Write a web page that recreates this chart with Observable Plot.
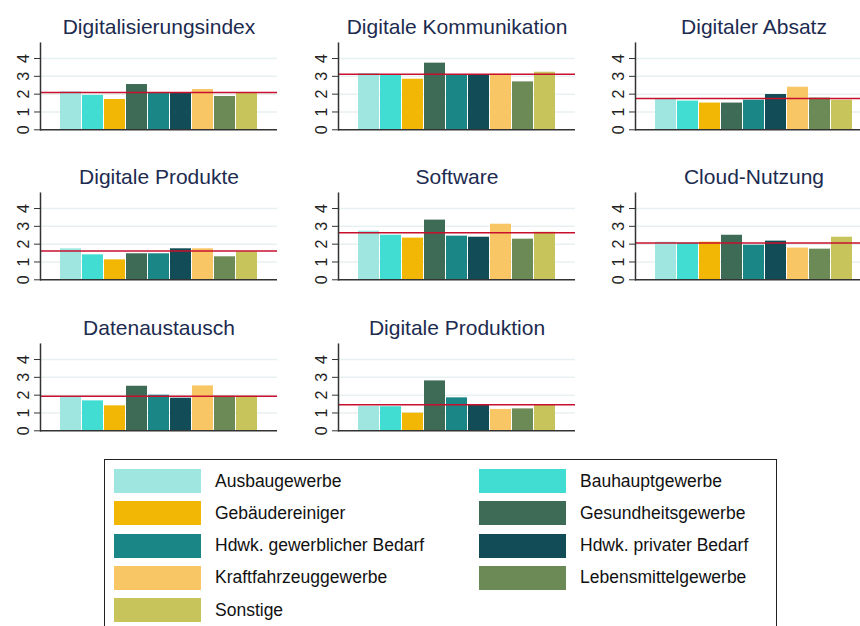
<!DOCTYPE html>
<html><head><meta charset="utf-8">
<script src="https://cdn.jsdelivr.net/npm/d3@7"></script>
<script src="https://cdn.jsdelivr.net/npm/@observablehq/plot@0.6"></script>
<style>
html,body{margin:0;padding:0;background:#fff;overflow:hidden;width:860px;height:626px;}
#root{position:relative;width:860px;height:626px;overflow:hidden;font-family:"Liberation Sans",Arial,sans-serif;}
.panel{position:absolute;}
#legend{position:absolute;left:104px;top:459px;width:673px;height:200px;border:1.5px solid #222;box-sizing:border-box;}
.item{position:absolute;display:flex;align-items:center;height:24px;}
.sw{width:87px;height:24px;flex:none;}
.lab{margin-left:14px;font-size:17.5px;color:#111;white-space:nowrap;}
</style></head><body><div id="root"></div><script>
const categories = ["Ausbaugewerbe","Bauhauptgewerbe","Gebäudereiniger","Gesundheitsgewerbe","Hdwk. gewerblicher Bedarf","Hdwk. privater Bedarf","Kraftfahrzeuggewerbe","Lebensmittelgewerbe","Sonstige"];
const colors = ["#a0e6e0","#41ddd3","#f2b705","#3d6b56","#1b8686","#124c56","#f9c665","#6b8a56","#c6c45b"];
const titles = ["Digitalisierungsindex","Digitale Kommunikation","Digitaler Absatz","Digitale Produkte","Software","Cloud-Nutzung","Datenaustausch","Digitale Produktion"];
const yTicks = [0,1,2,3,4];

const digitalisierungsindex = [2.13,1.93,1.70,2.54,2.09,2.09,2.26,1.87,2.07];
const digitaleKommunikation = [3.16,3.08,2.84,3.74,3.07,3.07,3.12,2.69,3.23];
const digitalerAbsatz       = [1.72,1.61,1.50,1.50,1.66,1.98,2.39,1.78,1.66];
const digitaleProdukte      = [1.74,1.40,1.12,1.46,1.46,1.74,1.74,1.29,1.57];
const software              = [2.73,2.50,2.34,3.35,2.45,2.39,3.12,2.28,2.67];
const cloudNutzung          = [2.11,2.06,2.11,2.50,1.94,2.17,1.78,1.72,2.39];
const datenaustausch        = [1.93,1.68,1.40,2.50,2.00,1.83,2.52,1.94,1.94];
const digitaleProduktion    = [1.36,1.35,0.99,2.80,1.85,1.42,1.20,1.23,1.46];
const means = [2.09,3.12,1.76,1.61,2.64,2.07,1.94,1.46];

const series = [digitalisierungsindex,digitaleKommunikation,digitalerAbsatz,digitaleProdukte,software,cloudNutzung,datenaustausch,digitaleProduktion];
const FONT = '"Liberation Sans", Arial, sans-serif';
const root = document.getElementById("root");

series.forEach((values, k) => {
  const col = k % 3, row = Math.floor(k / 3);
  const data = categories.map((c, i) => ({category: c, value: values[i]}));
  const svg = Plot.plot({
    width: 280, height: 150,
    marginLeft: 40, marginRight: 3, marginTop: 42.7, marginBottom: 20.7,
    style: {fontFamily: FONT, background: "transparent", overflow: "visible"},
    x: {type: "band", domain: categories, paddingInner: 0.06, paddingOuter: 0.9, axis: null},
    y: {domain: [0, 4.86], axis: null},
    color: {domain: categories, range: colors},
    marks: [
      Plot.ruleY(yTicks.filter(t => t > 0), {stroke: "#e8f1f1", strokeWidth: 1.5}),
      Plot.barY(data, {x: "category", y: "value", fill: "category"}),
      Plot.ruleY([means[k]], {stroke: "#c8102e", strokeWidth: 1.5}),
      Plot.ruleY([0], {stroke: "#333", strokeWidth: 1.5}),
      Plot.frame({anchor: "left", stroke: "#333", strokeWidth: 1.5}),
      Plot.axisY({ticks: yTicks, tickSize: 6, tickFormat: () => "", label: null, stroke: "#333"}),
      Plot.text(yTicks, {y: d => d, text: d => String(d), frameAnchor: "left", rotate: -90, dx: -17, textAnchor: "middle", lineAnchor: "middle", fontSize: 16, fill: "#222"}),
      Plot.text([titles[k]], {frameAnchor: "top", lineAnchor: "bottom", dy: -9, fontSize: 21, fill: "#1c2b4f"})
    ]
  });
  svg.classList.add("panel");
  svg.style.left = (40 + 297.5 * col - 40) + "px";
  svg.style.top = (150.4 * row) + "px";
  root.appendChild(svg);
});

const legend = document.createElement("div");
legend.id = "legend";
categories.forEach((c, i) => {
  const col = i % 2, row = Math.floor(i / 2);
  const it = document.createElement("div");
  it.className = "item";
  it.style.left = (col === 0 ? 9 : 374) + "px";
  it.style.top = (9 + row * 32.3) + "px";
  const sw = document.createElement("div");
  sw.className = "sw"; sw.style.background = colors[i];
  const lab = document.createElement("span");
  lab.className = "lab"; lab.textContent = c;
  it.appendChild(sw); it.appendChild(lab);
  legend.appendChild(it);
});
root.appendChild(legend);
</script></body></html>
